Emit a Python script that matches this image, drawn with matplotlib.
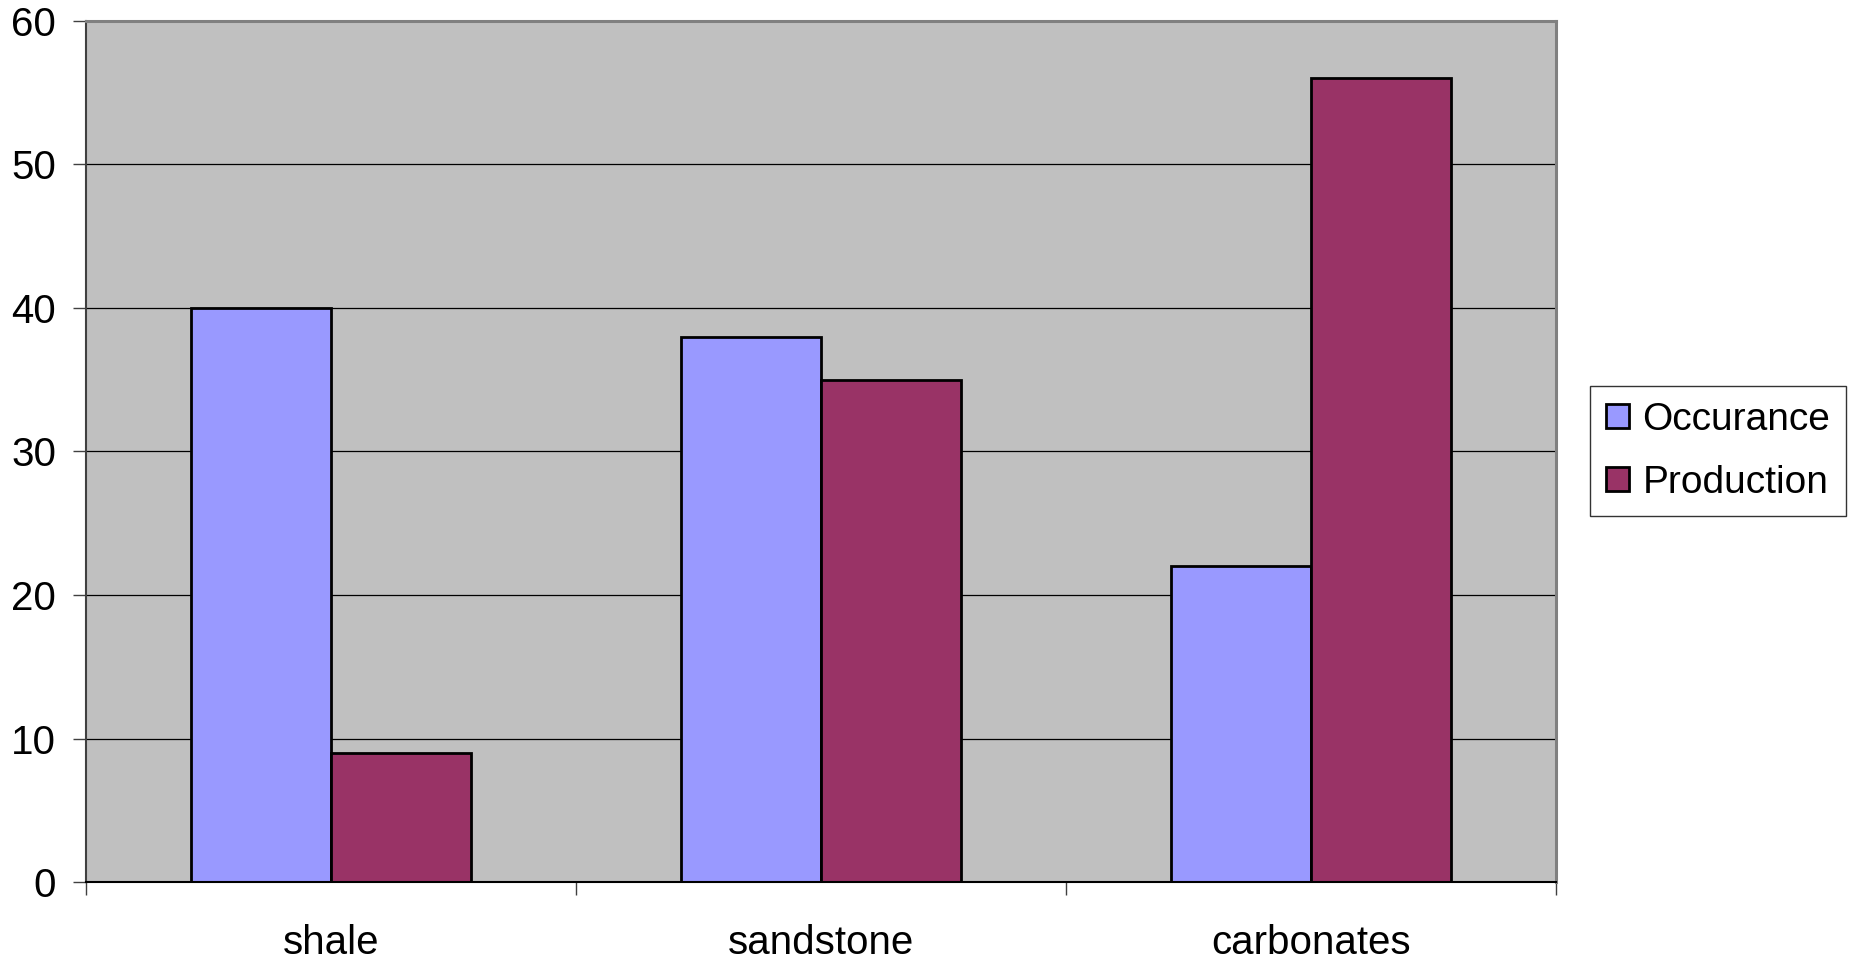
import matplotlib
matplotlib.use("Agg")
import matplotlib.pyplot as plt
import numpy as np
from matplotlib.patches import Patch

categories = ["shale", "sandstone", "carbonates"]
occurance = [40, 38, 22]
production = [9, 35, 56]
series_names = ["Occurance", "Production"]
yticks = [0, 10, 20, 30, 40, 50, 60]

plt.rcParams['font.family'] = ['Liberation Sans', 'DejaVu Sans']

W, H = 1854, 964
fig = plt.figure(figsize=(W/100, H/100), dpi=100)
ax = fig.add_axes([86/W, 1-882/H, (1556-86)/W, (882-21)/H])
ax.set_facecolor('#C0C0C0')

x = np.arange(len(categories))
bw = 1/3.5
c1, c2 = '#9999FF', '#993366'
ax.bar(x - bw/2, occurance, width=bw, color=c1, edgecolor='black', linewidth=2, zorder=3)
ax.bar(x + bw/2, production, width=bw, color=c2, edgecolor='black', linewidth=2, zorder=3)

ax.set_xlim(-0.5, len(categories) - 0.5)
ax.set_ylim(0, 60)
ax.set_yticks(yticks)
ax.set_yticklabels([str(v) for v in yticks])
ax.yaxis.grid(True, color='black', linewidth=0.9, zorder=1)
ax.set_axisbelow(True)

ax.set_xticks(x)
ax.set_xticklabels(categories)
ax.set_xticks(np.arange(-0.5, len(categories)), minor=True)
ax.tick_params(axis='x', which='major', length=0, pad=30, labelsize=29)
ax.tick_params(axis='x', which='minor', length=9.5, width=1, color='#404040')
ax.tick_params(axis='y', which='major', length=9.5, width=1, color='#404040', pad=12, labelsize=29)

for s in ['top', 'right']:
    ax.spines[s].set_color('#808080')
    ax.spines[s].set_linewidth(2.2)
ax.spines['left'].set_color('#404040')
ax.spines['left'].set_linewidth(1.5)
ax.spines['bottom'].set_color('black')
ax.spines['bottom'].set_linewidth(1.5)
ax.spines['bottom'].set_zorder(4)

handles = [Patch(facecolor=c1, edgecolor='black', linewidth=2),
           Patch(facecolor=c2, edgecolor='black', linewidth=2)]
leg = fig.legend(handles, series_names, loc='upper left',
                 bbox_to_anchor=(1590/W, 1-386/H), bbox_transform=fig.transFigure,
                 borderaxespad=0, fancybox=False, frameon=True, fontsize=28,
                 handlelength=0.6, handleheight=0.6, handletextpad=0.35,
                 borderpad=0.4, labelspacing=0.7)
leg.get_frame().set_edgecolor('black')
leg.get_frame().set_linewidth(1)

fig.savefig('out.png', dpi=100)
